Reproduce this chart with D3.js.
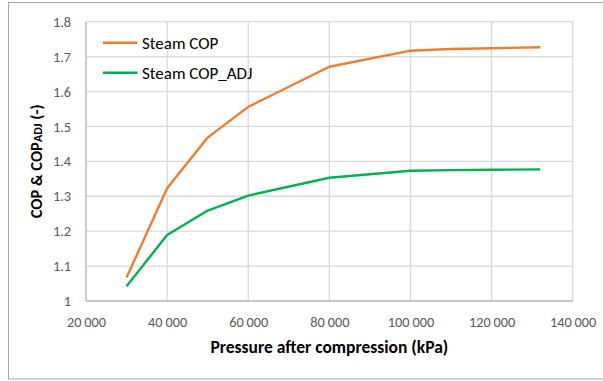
<!DOCTYPE html>
<html>
<head>
<meta charset="utf-8">
<script src="https://cdn.jsdelivr.net/npm/d3@7"></script>
<style>
  html, body { margin: 0; padding: 0; background: #fff; }
  svg { display: block; font-family: Calibri, Carlito, Lato, sans-serif; }
</style>
</head>
<body>
<svg id="chart" width="603" height="381"></svg>
<script>
// Pressure after compression (kPa)
const pressure = [30000, 40000, 50000, 60000, 80000, 100000, 110000, 120000, 132000];
// Coefficient of performance, raw and adjusted
const steamCOP    = [1.067, 1.323, 1.468, 1.556, 1.671, 1.717, 1.722, 1.724, 1.727];
const steamCOPAdj = [1.042, 1.189, 1.259, 1.302, 1.353, 1.373, 1.375, 1.376, 1.377];
const xTicks = [20000, 40000, 60000, 80000, 100000, 120000, 140000];
const yTicks = [1, 1.1, 1.2, 1.3, 1.4, 1.5, 1.6, 1.7, 1.8];
const seriesNames = ["Steam COP", "Steam COP_ADJ"];
const seriesColors = ["#ED7D31", "#00B050"];

const svg = d3.select("#chart");
const plot = { left: 86, top: 21.7, right: 572.7, bottom: 301 };

const x = d3.scaleLinear().domain([20000, 140000]).range([plot.left, plot.right]);
const y = d3.scaleLinear().domain([1, 1.8]).range([plot.bottom, plot.top]);

// chart frame
svg.append("rect")
  .attr("x", 8.5).attr("y", 2.5).attr("width", 620).attr("height", 376.5)
  .attr("fill", "#fff").attr("stroke", "#A6A6A6").attr("stroke-width", 1);

const fmt = v => d3.format(",")(v).replace(/,/g, "\u2009");

// gridlines
const grid = svg.append("g").attr("stroke", "#D9D9D9").attr("stroke-width", 1.3);
grid.selectAll("line.h").data(yTicks).join("line")
  .attr("x1", plot.left).attr("x2", plot.right)
  .attr("y1", d => y(d)).attr("y2", d => y(d));
grid.selectAll("line.v").data(xTicks).join("line")
  .attr("y1", plot.top).attr("y2", plot.bottom)
  .attr("x1", d => x(d)).attr("x2", d => x(d));

// axis lines
svg.append("line").attr("x1", plot.left).attr("x2", plot.right)
  .attr("y1", plot.bottom).attr("y2", plot.bottom)
  .attr("stroke", "#BFBFBF").attr("stroke-width", 1.3);
svg.append("line").attr("x1", plot.left).attr("x2", plot.left)
  .attr("y1", plot.top).attr("y2", plot.bottom)
  .attr("stroke", "#BFBFBF").attr("stroke-width", 1.3);

// axes
const xAxis = svg.append("g")
  .attr("transform", `translate(0,${plot.bottom})`)
  .call(d3.axisBottom(x).tickValues(xTicks).tickFormat(fmt).tickSize(0).tickPadding(15));
const yAxis = svg.append("g")
  .attr("transform", `translate(${plot.left},0)`)
  .call(d3.axisLeft(y).tickValues(yTicks).tickFormat(d3.format("")).tickSize(0).tickPadding(15));
[xAxis, yAxis].forEach(a => {
  a.select(".domain").remove();
  a.selectAll("text").attr("fill", "#595959").attr("font-size", 14.3)
    .attr("font-family", "Calibri, Carlito, Lato, sans-serif");
});
xAxis.selectAll("text").attr("dy", "0.35em").attr("y", 20.5);

// series lines
const line = d3.line().x((d, i) => x(pressure[i])).y(d => y(d));
[steamCOP, steamCOPAdj].forEach((vals, k) => {
  svg.append("path").datum(vals)
    .attr("d", line)
    .attr("fill", "none")
    .attr("stroke", seriesColors[k])
    .attr("stroke-width", 2.4)
    .attr("stroke-linejoin", "round");
});

// legend
const legend = svg.append("g");
seriesNames.forEach((name, k) => {
  const ly = 42.7 + k * 30;
  legend.append("line").attr("x1", 103).attr("x2", 137.5)
    .attr("y1", ly).attr("y2", ly)
    .attr("stroke", seriesColors[k]).attr("stroke-width", 2.4);
  legend.append("text").attr("x", 142).attr("y", ly).attr("dy", "0.35em")
    .attr("font-size", 17).attr("fill", "#000").text(name);
});

// axis titles
svg.append("text")
  .attr("x", (plot.left + plot.right) / 2).attr("y", 347).attr("dy", "0.35em")
  .attr("text-anchor", "middle").attr("font-weight", "bold").attr("font-size", 17.5)
  .attr("fill", "#000").text("Pressure after compression (kPa)");

const yTitle = svg.append("text")
  .attr("transform", `translate(36,${(plot.top + plot.bottom) / 2}) rotate(-90)`)
  .attr("text-anchor", "middle").attr("dy", "0.35em")
  .attr("font-weight", "bold").attr("font-size", 16.5).attr("fill", "#000");
yTitle.append("tspan").text("COP & COP");
yTitle.append("tspan").attr("font-size", 12).text("ADJ");
yTitle.append("tspan").text(" (-)");
</script>
</body>
</html>
